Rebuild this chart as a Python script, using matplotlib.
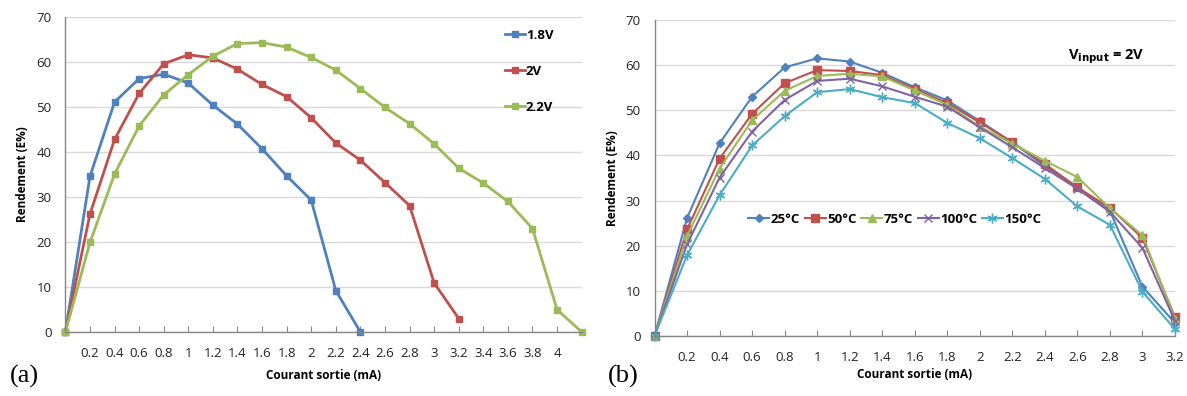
import numpy as np
import matplotlib
matplotlib.use('Agg')
import matplotlib.pyplot as plt

plt.rcParams['font.family'] = ['Open Sans', 'DejaVu Sans']

# ---- données (a) : rendement en fonction du courant, 3 tensions ----
x_18 = [0, 0.2, 0.4, 0.6, 0.8, 1.0, 1.2, 1.4, 1.6, 1.8, 2.0, 2.2, 2.4]
y_18 = [0, 34.6, 51.1, 56.3, 57.3, 55.3, 50.4, 46.2, 40.7, 34.7, 29.3, 9.2, 0]

x_20 = [0, 0.2, 0.4, 0.6, 0.8, 1.0, 1.2, 1.4, 1.6, 1.8, 2.0, 2.2, 2.4, 2.6, 2.8, 3.0, 3.2]
y_20 = [0, 26.2, 42.8, 53.0, 59.6, 61.6, 60.9, 58.4, 55.0, 52.3, 47.6, 42.0, 38.2,
        33.2, 28.1, 10.9, 3.0]

x_22 = [0, 0.2, 0.4, 0.6, 0.8, 1.0, 1.2, 1.4, 1.6, 1.8, 2.0, 2.2, 2.4, 2.6, 2.8, 3.0,
        3.2, 3.4, 3.6, 3.8, 4.0, 4.2]
y_22 = [0, 19.9, 35.1, 45.8, 52.7, 57.2, 61.3, 64.1, 64.3, 63.3, 61.0, 58.2, 54.1,
        49.9, 46.3, 41.8, 36.4, 33.1, 29.0, 23.0, 5.0, 0]

labels_a = ['1.8V', '2V', '2.2V']
ticks_a = [0.2, 0.4, 0.6, 0.8, 1, 1.2, 1.4, 1.6, 1.8, 2, 2.2, 2.4, 2.6, 2.8, 3,
           3.2, 3.4, 3.6, 3.8, 4]

# ---- données (b) : Vinput = 2V, 5 températures ----
x_t = [0, 0.2, 0.4, 0.6, 0.8, 1.0, 1.2, 1.4, 1.6, 1.8, 2.0, 2.2, 2.4, 2.6, 2.8, 3.0, 3.2]
y_25 = [0, 26.1, 42.7, 53.0, 59.5, 61.5, 60.8, 58.3, 55.1, 52.2, 47.6, 42.9, 37.6,
        33.0, 27.7, 10.9, 2.9]
y_50 = [0, 23.6, 39.3, 49.2, 56.0, 58.9, 58.7, 57.8, 54.7, 51.6, 47.3, 42.9, 38.1,
        32.9, 28.4, 21.7, 4.1]
y_75 = [0, 22.1, 37.1, 47.8, 54.3, 57.6, 58.1, 57.5, 54.4, 51.2, 46.4, 42.6, 38.8,
        35.2, 28.3, 22.3, 3.7]
y_100 = [0, 20.3, 35.1, 45.3, 52.3, 56.5, 57.0, 55.3, 53.0, 50.8, 46.2, 41.8, 37.2,
         32.6, 27.5, 19.5, 3.3]
y_150 = [0, 17.9, 31.2, 42.2, 48.7, 54.0, 54.7, 52.9, 51.6, 47.2, 43.8, 39.4, 34.8,
         28.7, 24.6, 9.8, 1.5]

labels_b = ['25°C', '50°C', '75°C', '100°C', '150°C']
ticks_b = [0.2, 0.4, 0.6, 0.8, 1, 1.2, 1.4, 1.6, 1.8, 2, 2.2, 2.4, 2.6, 2.8, 3, 3.2]

BLUE = '#4F81BD'
RED = '#C0504D'
GREEN = '#9BBB59'
PURPLE = '#8064A2'
CYAN = '#4BACC6'
GRID = '#D9D9D9'
AXIS = '#868686'


def fmt_tick(v):
    return ('%g' % v)


def style_axes(ax, xmax, ticks):
    ax.set_xlim(0, xmax)
    ax.set_ylim(0, 70)
    ax.set_yticks(range(0, 71, 10))
    ax.set_xticks(ticks)
    ax.set_xticklabels([fmt_tick(t) for t in ticks])
    ax.grid(axis='y', color=GRID, linewidth=1)
    ax.set_axisbelow(True)
    for s in ['top', 'right']:
        ax.spines[s].set_visible(False)
    for s in ['left', 'bottom']:
        ax.spines[s].set_color(AXIS)
        ax.spines[s].set_linewidth(1)
    ax.tick_params(axis='x', direction='in', length=4, color=AXIS, pad=11,
                   labelsize=9.5, labelcolor='#222222')
    ax.tick_params(axis='y', length=0, pad=10, labelsize=9.5, labelcolor='#222222')
    ax.set_ylabel('Rendement (E%)', fontsize=8.5, fontweight='bold', labelpad=5)
    ax.set_xlabel('Courant sortie (mA)', fontsize=8.5, fontweight='bold', labelpad=6)


fig = plt.figure(figsize=(11.87, 3.96), dpi=100)

# (a)
ax1 = fig.add_axes([0.0551, 0.1616, 0.4349, 0.7955])
style_axes(ax1, 4.2, ticks_a)
l1, = ax1.plot(x_18, y_18, color=BLUE, lw=2, marker='s', ms=5, clip_on=False)
l2, = ax1.plot(x_20, y_20, color=RED, lw=2, marker='s', ms=5, clip_on=False)
l3, = ax1.plot(x_22, y_22, color=GREEN, lw=2, marker='s', ms=5, clip_on=False)
ax1.legend([l1, l2, l3], labels_a, loc='upper left', bbox_to_anchor=(0.828, 1.0),
           frameon=False, handlelength=1.5, handletextpad=0.1, labelspacing=1.75,
           prop={'weight': 'bold', 'size': 9.5})

# (b)
ax2 = fig.add_axes([0.5514, 0.1515, 0.4385, 0.798])
style_axes(ax2, 3.2, ticks_b)
ax2.xaxis.labelpad = 3
h = []
h += ax2.plot(x_t, y_25, color=BLUE, lw=1.5, marker='D', ms=4, clip_on=False)
h += ax2.plot(x_t, y_50, color=RED, lw=1.5, marker='s', ms=6, clip_on=False)
h += ax2.plot(x_t, y_75, color=GREEN, lw=1.5, marker='^', ms=5.5, clip_on=False)
h += ax2.plot(x_t, y_100, color=PURPLE, lw=1.5, marker='x', ms=6, mew=1, clip_on=False)
h += ax2.plot(x_t, y_150, color=CYAN, lw=1.5, marker=(6, 2, 0), ms=7, mew=1,
              clip_on=False)
ax2.legend(h, labels_b, loc='center left', bbox_to_anchor=(0.157, 0.37), ncol=5,
           frameon=False, handlelength=1.6, handletextpad=0.1, columnspacing=0.35,
           prop={'weight': 'bold', 'size': 9.5})
ax2.text(0.795, 0.885, r'V$_{\mathbf{input}}$ = 2V', transform=ax2.transAxes,
         fontsize=10.5, fontweight='bold', ha='left', va='center')

# étiquettes (a) et (b)
fig.text(0.008, 0.035, '(a)', fontsize=19, family='Liberation Serif')
fig.text(0.512, 0.035, '(b)', fontsize=19, family='Liberation Serif')

fig.savefig('out.png', dpi=100)
